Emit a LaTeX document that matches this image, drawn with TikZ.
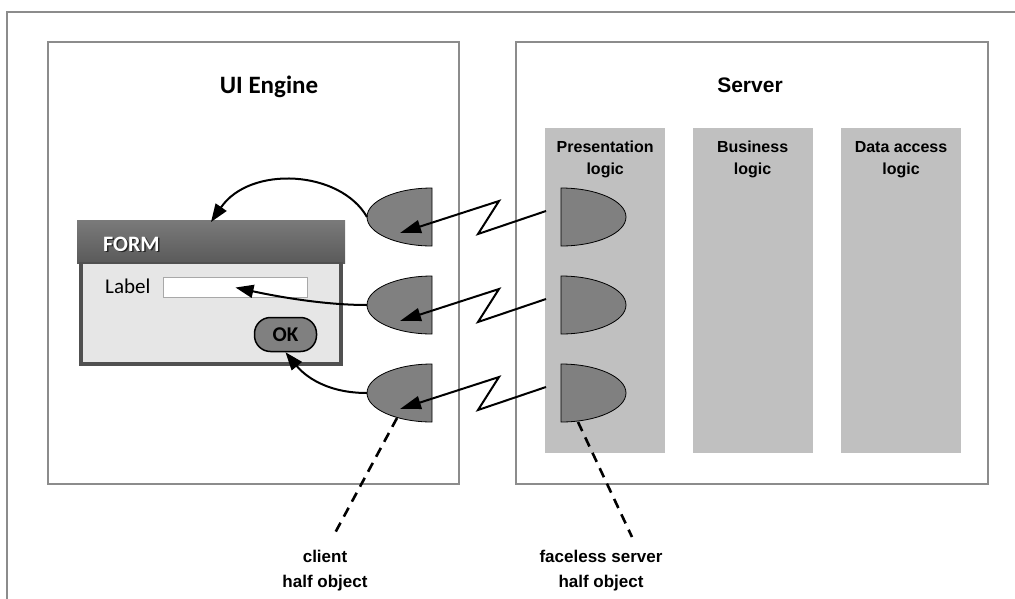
\documentclass[tikz,border=0pt]{standalone}
\usepackage{fontspec}
\setmainfont{Carlito}
\newfontfamily\arialfont{Liberation Sans}
\usetikzlibrary{arrows.meta,positioning,calc}

\definecolor{framegray}{HTML}{8C8C8C}
\definecolor{tiergray}{HTML}{C0C0C0}
\definecolor{halfgray}{HTML}{808080}
\definecolor{formbody}{HTML}{E6E6E6}
\definecolor{formedge}{HTML}{505050}
\definecolor{barlight}{HTML}{7A7A7A}
\definecolor{bardark}{HTML}{5A5A5A}
\definecolor{fieldedge}{HTML}{A8A8A8}

\tikzset{
  panel/.style={draw=framegray, line width=1.5pt, anchor=north west, inner sep=0pt, minimum height=442pt},
  tier/.style={fill=tiergray, anchor=north west, inner sep=0pt, minimum width=120pt, minimum height=325pt},
  tierlabel/.style={font=\arialfont\bfseries\fontsize{16}{22}\selectfont, align=center, inner sep=0pt},
  halfobj/.style={fill=halfgray, draw=black, line width=0.8pt},
  zigzag/.style={line width=2pt, -{Triangle[length=21pt,width=13pt]}},
  bind/.style={line width=2pt, -{Triangle[length=18pt,width=13pt]}},
  pointer/.style={line width=2.6pt, dash pattern=on 10pt off 7pt},
  pointertext/.style={font=\arialfont\bfseries\fontsize{17}{25}\selectfont, align=center, inner sep=0pt, anchor=north},
}

\begin{document}
\begin{tikzpicture}[x=1pt,y=-1pt]
\useasboundingbox (0,0) rectangle (1015,598);
% outer frame
\draw[framegray, line width=2pt] (7,600) -- (7,12) -- (1017,12);

% the two sides
\node[panel, minimum width=411pt] (ui) at (47,41) {};
\node[panel, minimum width=472pt] (server) at (515,41) {};
\node[font=\bfseries\fontsize{25}{30}\selectfont, anchor=base] (uititle) at (269,93) {UI Engine};
\node[font=\arialfont\bfseries\fontsize{21}{25}\selectfont, anchor=base] (servertitle) at (750,92) {Server};

% tiers of the server
\node[tier] (pres) at (545,128) {};
\node[tier, right=27pt of pres] (bus) {};
\node[tier, right=28pt of bus] (data) {};
\node[tierlabel, below=13pt of pres.north] (preslabel) {Presentation\\logic};
\node[tierlabel, below=13pt of bus.north] (buslabel) {Business\\logic};
\node[tierlabel, below=13pt of data.north] (datalabel) {Data access\\logic};

% the form
\node[fill=formbody, draw=formedge, line width=4pt, anchor=north west, inner sep=0pt,
      minimum width=260pt, minimum height=140pt] (form) at (79,222) {};
\shade[top color=barlight, bottom color=bardark] ($(form.north west)+(-2,-2)$) rectangle ($(form.north east)+(2,41)$);
\draw[formedge, line width=1.5pt] ($(form.north west)+(0,41)$) -- ($(form.north east)+(0,41)$);
\node[font=\bfseries\fontsize{22}{26}\selectfont, text=black!85, anchor=base west, inner sep=0pt] (formshadow) at (104.5,252.5) {FORM};
\node[font=\bfseries\fontsize{22}{26}\selectfont, text=white, anchor=base west, inner sep=0pt] (formtitle) at (103,251) {FORM};
\node[font=\fontsize{21}{25}\selectfont, anchor=base west, inner sep=0pt] (fieldlabel) at (105,293) {Label};
\node[draw=fieldedge, fill=white, line width=1pt, anchor=north west, inner sep=0pt,
      minimum width=144pt, minimum height=20pt] (field) at (163,277) {};
\node[draw=black, fill=halfgray, line width=1.5pt, rounded corners=16pt, inner sep=0pt,
      minimum width=62pt, minimum height=34pt, font=\bfseries\fontsize{21}{25}\selectfont] (ok) at (285.5,334.5) {OK};

% half objects and their links
\foreach \row/\ypos in {1/217,2/305,3/393}{
  \coordinate (srv\row) at (561,\ypos);
  \coordinate (cli\row) at (432,\ypos);
  \draw[halfobj] ($(srv\row)+(0,-29)$) arc[start angle=-90, end angle=90, x radius=65, y radius=29] -- cycle;
  \draw[halfobj] ($(cli\row)+(0,-29)$) arc[start angle=-90, end angle=-270, x radius=65, y radius=29] -- cycle;
  \draw[zigzag] ($(srv\row)+(-15,-6)$) -- ($(cli\row)+(46,17)$) -- ($(cli\row)+(67,-16)$) -- ($(cli\row)+(-32,16)$);
}

% client halves bound to the widgets
\draw[bind] ($(cli1)+(-65,0)$) .. controls (340,170) and (250,165) .. (form.north);
\draw[bind] ($(cli2)+(-65,0)$) .. controls (320,305) and (270,295) .. (field.center);
\draw[bind] ($(cli3)+(-65,0)$) .. controls (320,393) and (300,370) .. (ok.south);

% notes
\coordinate (clientend) at (335,533);
\coordinate (serverend) at (632,537);
\draw[pointer] ($(cli3)+(-35,25)$) -- (clientend);
\draw[pointer] ($(srv3)+(17,29)$) -- (serverend);
\node[pointertext] (clientnote) at (325,550) {client\\half object};
\node[pointertext] (servernote) at (601,550) {faceless server\\half object};
\end{tikzpicture}
\end{document}
